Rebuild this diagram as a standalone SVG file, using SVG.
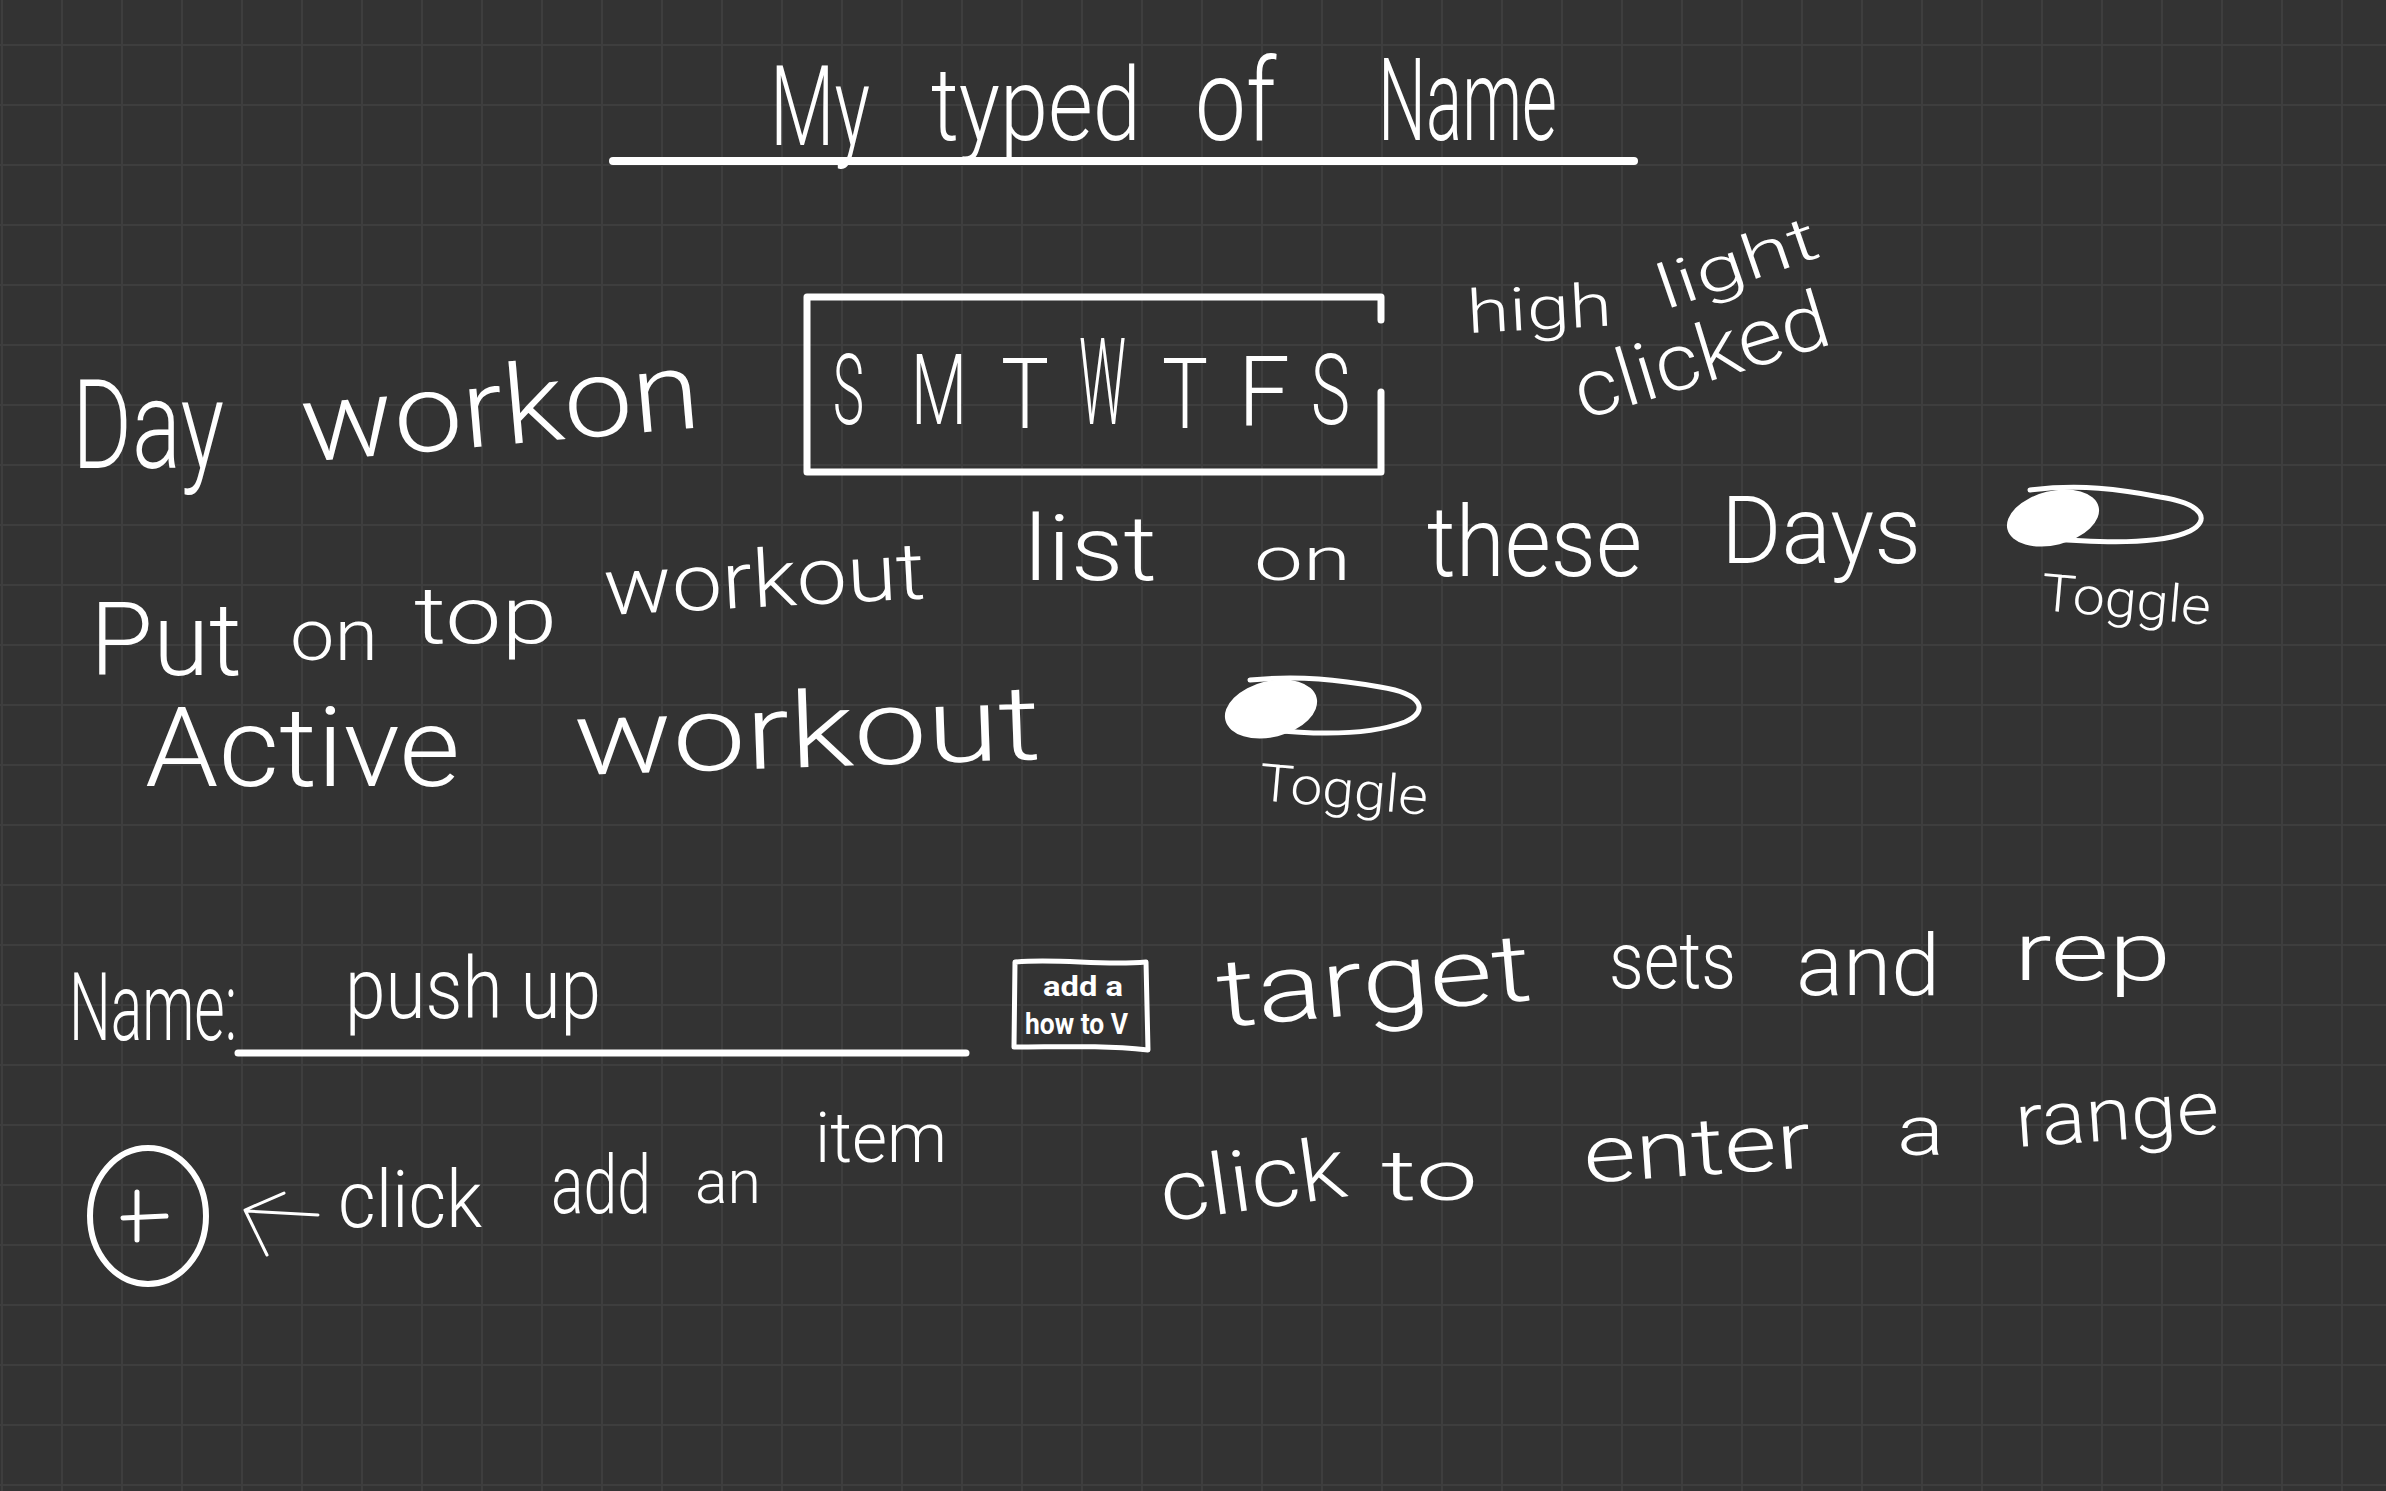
<svg xmlns="http://www.w3.org/2000/svg" width="2386" height="1491" viewBox="0 0 2386 1491">
<style>
.hw{font-family:Roboto,"Liberation Sans",sans-serif;font-weight:300;fill:#ffffff}
.day{font-family:Roboto,"Liberation Sans",sans-serif;font-weight:300;fill:#ffffff;font-size:98px}
.ink{fill:none;stroke:#ffffff;stroke-linecap:round;stroke-linejoin:round}
.bold{font-family:Roboto,"Liberation Sans",sans-serif;font-weight:700;fill:#ffffff}
</style>
<defs>
<pattern id="grid" x="1" y="44" width="60" height="60" patternUnits="userSpaceOnUse">
<rect x="0" y="0" width="2" height="60" fill="#3e3e3e"/>
<rect x="0" y="0" width="60" height="2" fill="#3e3e3e"/>
</pattern>
</defs>
<rect width="2386" height="1491" fill="#333333"/>
<rect width="2386" height="1491" fill="url(#grid)"/>

<g id="title">
<text class="hw" x="770" y="145" font-size="112" textLength="100" lengthAdjust="spacingAndGlyphs">My</text>
<text class="hw" x="931" y="140" font-size="102" textLength="210" lengthAdjust="spacingAndGlyphs">typed</text>
<text class="hw" x="1195" y="140" font-size="115" textLength="81" lengthAdjust="spacingAndGlyphs">of</text>
<text class="hw" x="1378" y="140" font-size="115" textLength="179" lengthAdjust="spacingAndGlyphs">Name</text>
<line class="ink" x1="613" y1="161" x2="1634" y2="161" stroke-width="8"/>
</g>

<g id="day-workout-label">
<text class="hw" x="72" y="468" font-size="125" textLength="152" lengthAdjust="spacingAndGlyphs">Day</text>
<text class="hw" x="304" y="462" font-size="110" textLength="400" lengthAdjust="spacingAndGlyphs" transform="rotate(-5 304 462)">workon</text>
</g>

<g id="day-selector">
<path class="ink" d="M1381,320 L1381,297 L807,297 L807,472 L1381,472 L1381,392" stroke-width="7"/>
<text class="day" x="833" y="424" textLength="31" lengthAdjust="spacingAndGlyphs">S</text>
<text class="day" x="911" y="424" textLength="56" lengthAdjust="spacingAndGlyphs">M</text>
<text class="day" x="1001" y="428" textLength="48" lengthAdjust="spacingAndGlyphs">T</text>
<text class="day" x="1079" y="424" font-size="78" textLength="47" lengthAdjust="spacingAndGlyphs" transform="translate(1079 424) scale(1 1.24) translate(-1079 -424)">W</text>
<text class="day" x="1162" y="428" textLength="46" lengthAdjust="spacingAndGlyphs">T</text>
<text class="day" x="1238" y="426" textLength="52" lengthAdjust="spacingAndGlyphs">F</text>
<text class="day" x="1311" y="424" textLength="39" lengthAdjust="spacingAndGlyphs">S</text>
</g>

<g id="highlight-note">
<text class="hw" x="1468" y="333" font-size="60" textLength="145" lengthAdjust="spacingAndGlyphs" transform="rotate(-3 1468 333)">high</text>
<text class="hw" x="1665" y="310" font-size="62" textLength="167" lengthAdjust="spacingAndGlyphs" transform="rotate(-19 1665 310)">light</text>
<text class="hw" x="1583" y="420" font-size="80" textLength="263" lengthAdjust="spacingAndGlyphs" transform="rotate(-17 1583 420)">clicked</text>
</g>

<g id="put-on-top-label">
<text class="hw" x="90" y="675" font-size="102" textLength="152" lengthAdjust="spacingAndGlyphs">Put</text>
<text class="hw" x="290" y="660" font-size="72" textLength="88" lengthAdjust="spacingAndGlyphs">on</text>
<text class="hw" x="414" y="643" font-size="80" textLength="143" lengthAdjust="spacingAndGlyphs">top</text>
<text class="hw" x="605" y="615" font-size="80" textLength="322" lengthAdjust="spacingAndGlyphs" transform="rotate(-3 605 615)">workout</text>
<text class="hw" x="1024" y="580" font-size="90" textLength="133" lengthAdjust="spacingAndGlyphs">list</text>
<text class="hw" x="1254" y="580" font-size="62" textLength="97" lengthAdjust="spacingAndGlyphs">on</text>
<text class="hw" x="1427" y="576" font-size="98" textLength="215" lengthAdjust="spacingAndGlyphs">these</text>
<text class="hw" x="1721" y="563" font-size="95" textLength="200" lengthAdjust="spacingAndGlyphs">Days</text>
</g>

<g id="toggle-days">
<path class="ink" d="M2030,490 C2080,484 2120,489 2160,497 C2205,504 2210,521 2190,531 C2160,545 2100,543 2040,538" stroke-width="5"/>
<ellipse cx="2053" cy="518" rx="47" ry="27" fill="#ffffff" transform="rotate(-14 2053 518)"/>
<text class="hw" x="2040" y="610" font-size="52" textLength="170" lengthAdjust="spacingAndGlyphs" transform="rotate(5 2040 610)">Toggle</text>
</g>

<g id="active-workout-label">
<text class="hw" x="145" y="786" font-size="112" textLength="315" lengthAdjust="spacingAndGlyphs">Active</text>
<text class="hw" x="575" y="775" font-size="105" textLength="467" lengthAdjust="spacingAndGlyphs" transform="rotate(-2 575 775)">workout</text>
</g>

<g id="toggle-active">
<path class="ink" d="M1250,680 C1300,675 1340,680 1380,687 C1425,694 1428,712 1405,722 C1370,735 1320,735 1270,730" stroke-width="5"/>
<ellipse cx="1271" cy="709" rx="47" ry="28" fill="#ffffff" transform="rotate(-14 1271 709)"/>
<text class="hw" x="1258" y="800" font-size="52" textLength="169" lengthAdjust="spacingAndGlyphs" transform="rotate(5 1258 800)">Toggle</text>
</g>

<g id="name-field">
<text class="hw" x="69" y="1040" font-size="94" textLength="168" lengthAdjust="spacingAndGlyphs">Name:</text>
<text class="hw" x="345" y="1018" font-size="85" textLength="256" lengthAdjust="spacingAndGlyphs">push up</text>
<line class="ink" x1="238" y1="1053" x2="966" y2="1053" stroke-width="7"/>
</g>

<g id="how-to-video-button">
<path class="ink" d="M1015,962 C1060,958 1100,966 1146,962 L1148,1050 C1100,1045 1060,1047 1014,1047 Z" stroke-width="5"/>
<text class="bold" x="1043" y="996" font-size="27" textLength="80" lengthAdjust="spacingAndGlyphs">add a</text>
<text class="bold" x="1025" y="1034" font-size="29" textLength="103" lengthAdjust="spacingAndGlyphs">how to V</text>
</g>

<g id="target-sets-label">
<text class="hw" x="1220" y="1027" font-size="95" textLength="315" lengthAdjust="spacingAndGlyphs" transform="rotate(-5 1220 1027)">target</text>
<text class="hw" x="1609" y="988" font-size="80" textLength="127" lengthAdjust="spacingAndGlyphs">sets</text>
<text class="hw" x="1796" y="995" font-size="85" textLength="144" lengthAdjust="spacingAndGlyphs">and</text>
<text class="hw" x="2014" y="980" font-size="82" textLength="157" lengthAdjust="spacingAndGlyphs">rep</text>
</g>

<g id="range-note">
<text class="hw" x="1164" y="1222" font-size="85" textLength="187" lengthAdjust="spacingAndGlyphs" transform="rotate(-8 1164 1222)">click</text>
<text class="hw" x="1381" y="1200" font-size="70" textLength="97" lengthAdjust="spacingAndGlyphs">to</text>
<text class="hw" x="1585" y="1183" font-size="80" textLength="228" lengthAdjust="spacingAndGlyphs" transform="rotate(-4 1585 1183)">enter</text>
<text class="hw" x="1897" y="1155" font-size="70" textLength="47" lengthAdjust="spacingAndGlyphs">a</text>
<text class="hw" x="2017" y="1147" font-size="75" textLength="204" lengthAdjust="spacingAndGlyphs" transform="rotate(-4 2017 1147)">range</text>
</g>

<g id="add-item-button">
<ellipse class="ink" cx="148" cy="1216" rx="58" ry="68" stroke-width="6"/>
<path class="ink" d="M137,1192 L137,1240 M123,1218 L166,1216" stroke-width="5"/>
</g>

<g id="add-item-note">
<text class="hw" x="338" y="1227" font-size="80" textLength="144" lengthAdjust="spacingAndGlyphs">click</text>
<text class="hw" x="551" y="1213" font-size="82" textLength="100" lengthAdjust="spacingAndGlyphs">add</text>
<text class="hw" x="695" y="1203" font-size="62" textLength="66" lengthAdjust="spacingAndGlyphs">an</text>
<text class="hw" x="815" y="1162" font-size="70" textLength="132" lengthAdjust="spacingAndGlyphs">item</text>
</g>

<g id="connectors">
<path class="ink" d="M318,1215 L247,1211 M284,1193 L245,1210 L267,1255" stroke-width="3"/>
</g>
</svg>
